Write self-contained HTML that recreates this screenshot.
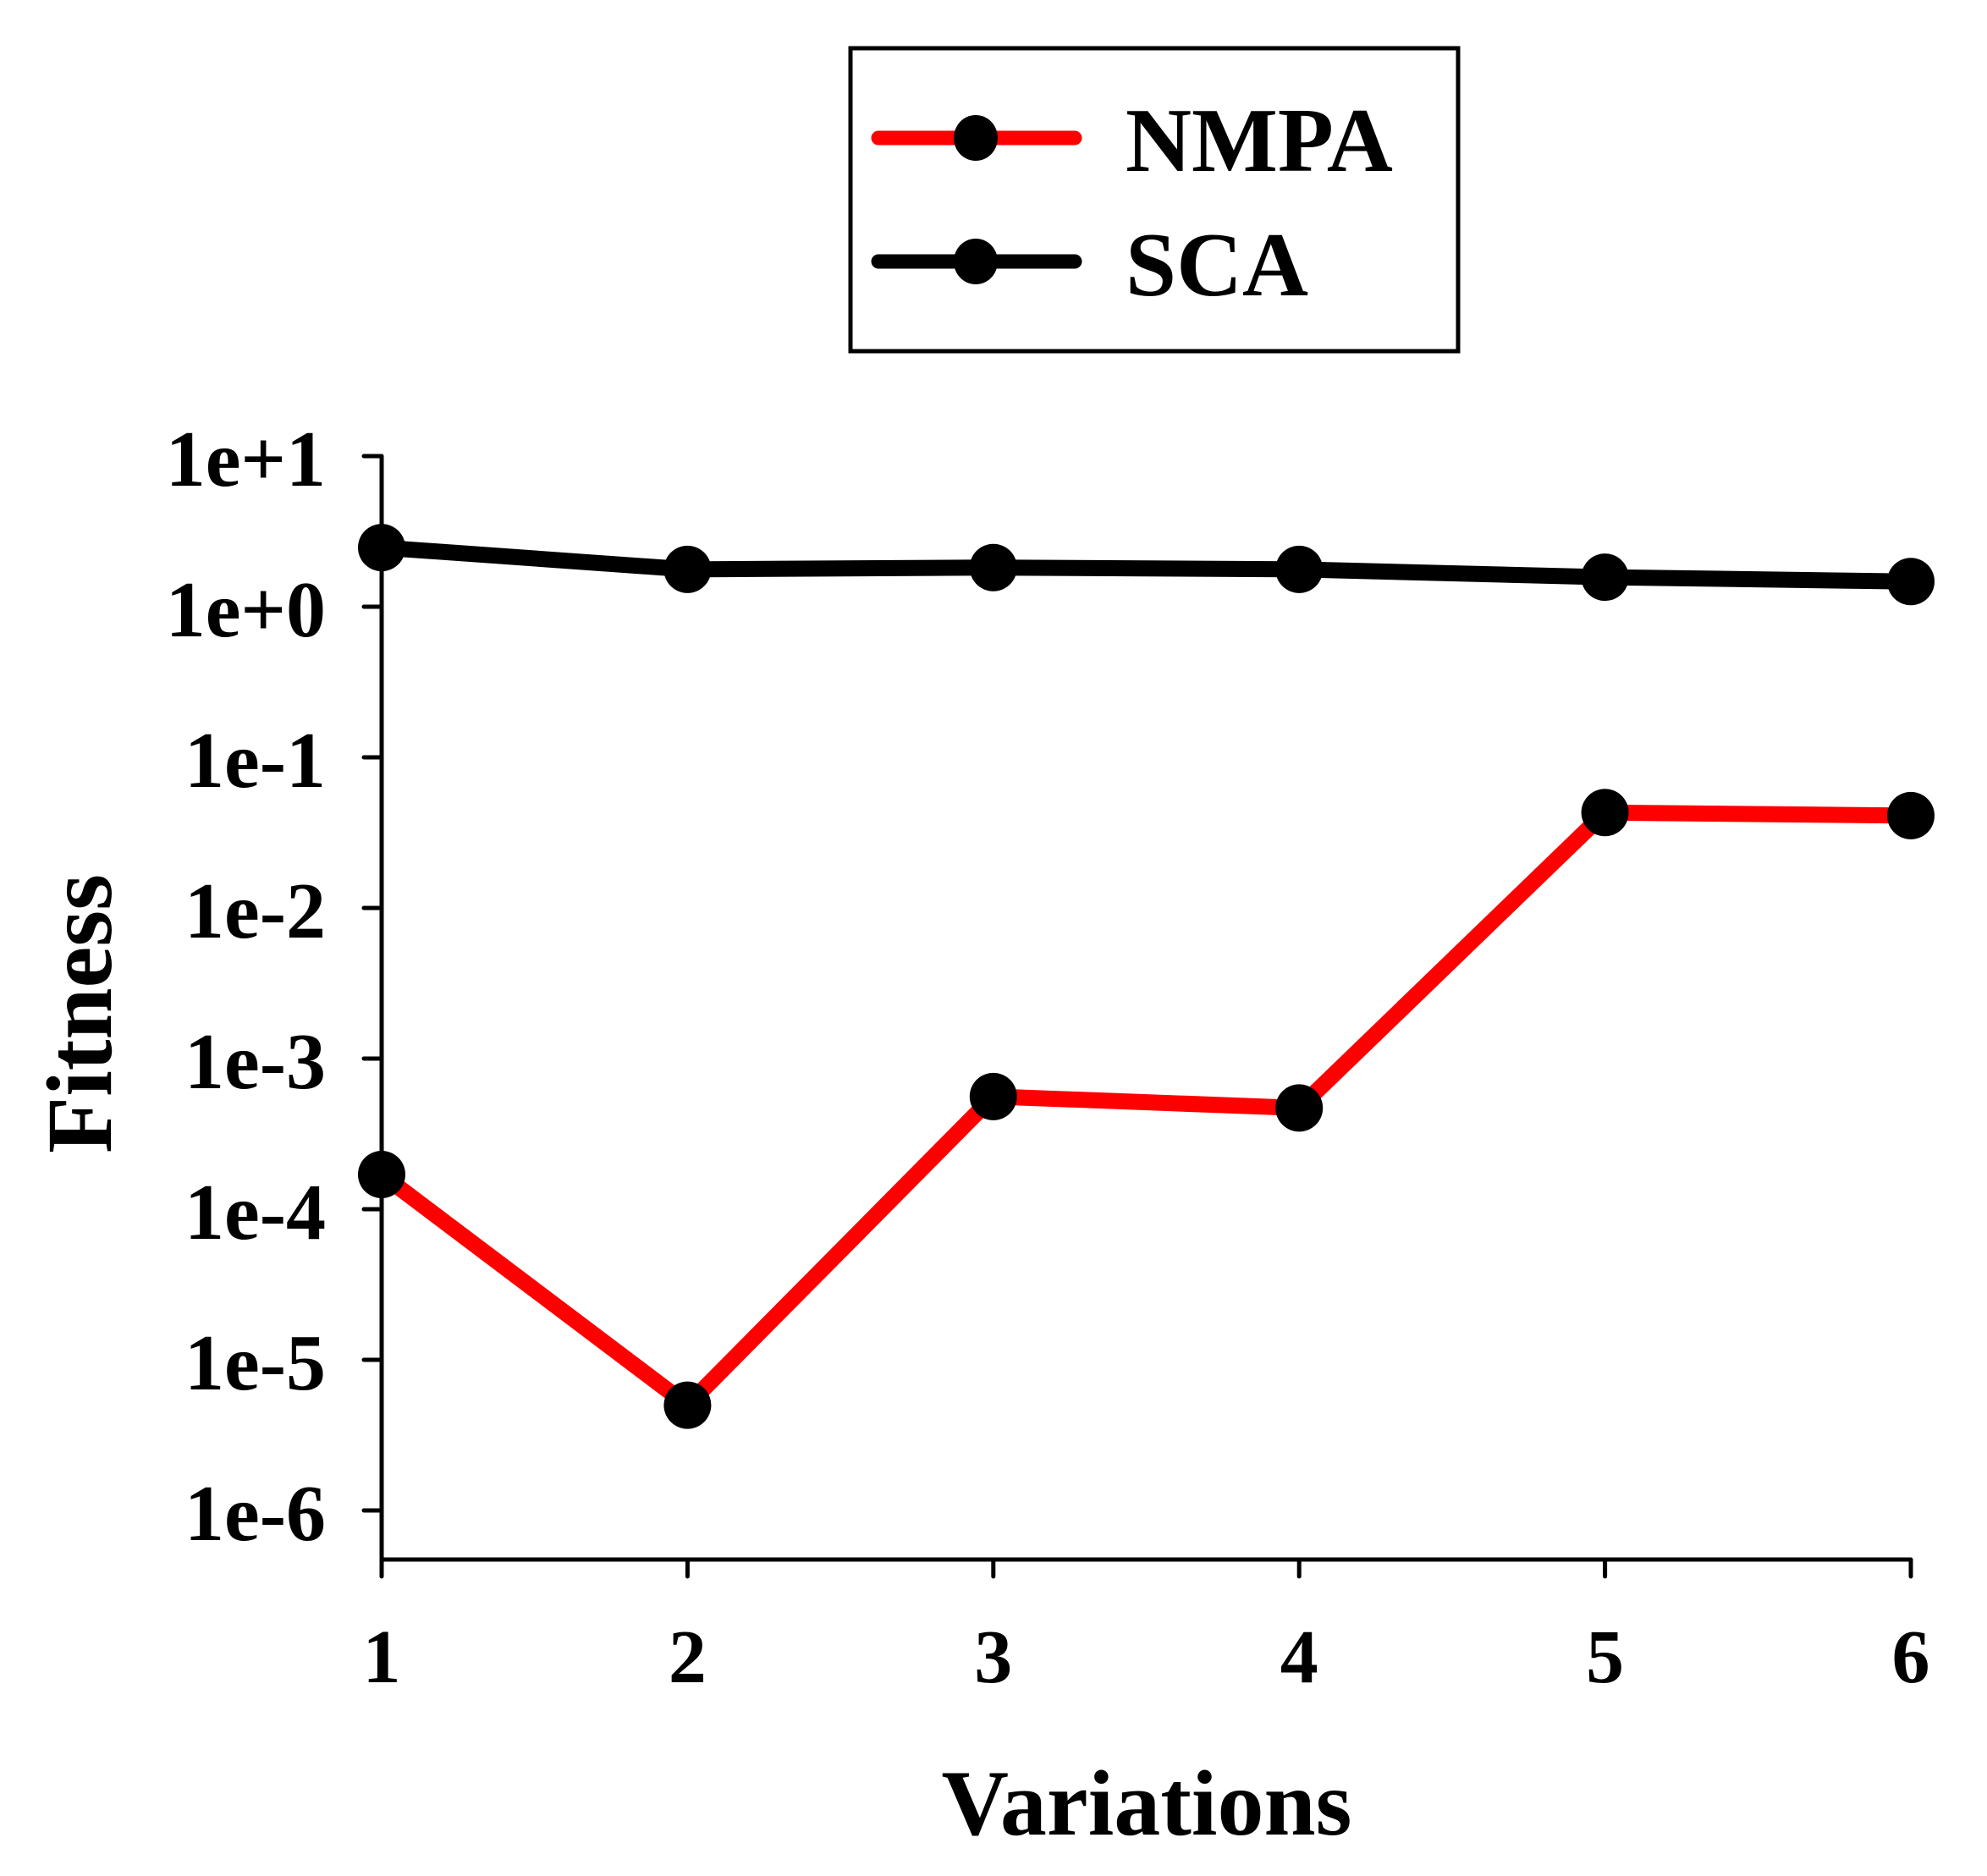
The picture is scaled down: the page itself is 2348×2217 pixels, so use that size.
<!DOCTYPE html>
<html><head><meta charset="utf-8"><style>
html,body{margin:0;padding:0;background:#fff;}
svg{display:block;}
text{font-family:"Liberation Serif",serif;font-weight:bold;fill:#000;}
</style></head><body>
<svg id="chart" width="2348" height="2217" viewBox="0 0 2348 2217">
<g id="legend">
  <rect x="1005" y="57" width="718" height="358" fill="none" stroke="#000" stroke-width="5"/>
  <g>
    <line x1="1038" y1="163" x2="1270" y2="163" stroke="#ff0000" stroke-width="17" stroke-linecap="round"/>
    <ellipse cx="1153" cy="163" rx="26" ry="27" fill="#000"/>
    <text x="1330" y="202" font-size="108">NMPA</text>
  </g>
  <g>
    <line x1="1038" y1="309" x2="1270" y2="309" stroke="#000" stroke-width="17" stroke-linecap="round"/>
    <ellipse cx="1153" cy="309" rx="26" ry="27" fill="#000"/>
    <text x="1330" y="349" font-size="108">SCA</text>
  </g>
</g>
<g id="axes"></g>
<g id="series"></g>
<text x="131" y="1198" font-size="110" text-anchor="middle" transform="rotate(-90 131 1198)">Fitness</text>
<text x="1355" y="2168" font-size="110" text-anchor="middle">Variations</text>
</svg>
<script>
const categories = [1, 2, 3, 4, 5, 6];
const nmpaValues = [1.7e-4, 5.0e-6, 5.6e-4, 4.7e-4, 0.043, 0.041];
const scaValues = [2.47, 1.77, 1.82, 1.77, 1.57, 1.47];
const yTickExps = [1, 0, -1, -2, -3, -4, -5, -6];
const yTickLabels = ["1e+1", "1e+0", "1e-1", "1e-2", "1e-3", "1e-4", "1e-5", "1e-6"];

const NS = "http://www.w3.org/2000/svg";
const X0 = 451, XSTEP = 361.4, YTOP = 539, DEC = 178, XAXIS_Y = 1843;
function xPos(c){ return X0 + (c - 1) * XSTEP; }
function yPos(v){ return YTOP + (1 - Math.log10(v)) * DEC; }
function mk(tag, attrs, parent){
  const e = document.createElementNS(NS, tag);
  for (const k in attrs) e.setAttribute(k, attrs[k]);
  parent.appendChild(e);
  return e;
}
const axes = document.getElementById("axes");
const yAxis = mk("line", {x1:X0, y1:YTOP, x2:X0, y2:XAXIS_Y+20, stroke:"#000", "stroke-width":5}, axes);


const xAxis = mk("line", {x1:X0, y1:XAXIS_Y, x2:xPos(6), y2:XAXIS_Y, stroke:"#000", "stroke-width":5}, axes);


yTickExps.forEach((e, i) => {
  const y = YTOP + (1 - e) * DEC;
  const t = mk("line", {x1:X0-21, y1:y, x2:X0, y2:y, stroke:"#000", "stroke-width":5, "stroke-linecap":"round"}, axes);
  
  
  const lb = mk("text", {x:385, y:y+35, "font-size":94, "text-anchor":"end"}, axes);
  lb.textContent = yTickLabels[i];
  
  
});
categories.forEach(c => {
  const x = xPos(c);
  const t = mk("line", {x1:x, y1:XAXIS_Y, x2:x, y2:XAXIS_Y+20, stroke:"#000", "stroke-width":5, "stroke-linecap":"round"}, axes);
  
  
  const lb = mk("text", {x:x, y:1988, "font-size":90, "text-anchor":"middle"}, axes);
  lb.textContent = String(c);
  
  
});
const series = document.getElementById("series");
function drawSeries(vals, color, name){
  const g = mk("g", {}, series);
  
  
  const pts = vals.map((v, i) => xPos(categories[i]) + "," + yPos(v)).join(" ");
  const pl = mk("polyline", {points:pts, fill:"none", stroke:color, "stroke-width":19, "stroke-linejoin":"round"}, g);
  
  
  vals.forEach((v, i) => {
    const m = mk("circle", {cx:xPos(categories[i]), cy:yPos(v), r:28, fill:"#000"}, g);
    
    
  });
}
drawSeries(scaValues, "#000", "sca");
drawSeries(nmpaValues, "#ff0000", "nmpa");
</script>
</body></html>
